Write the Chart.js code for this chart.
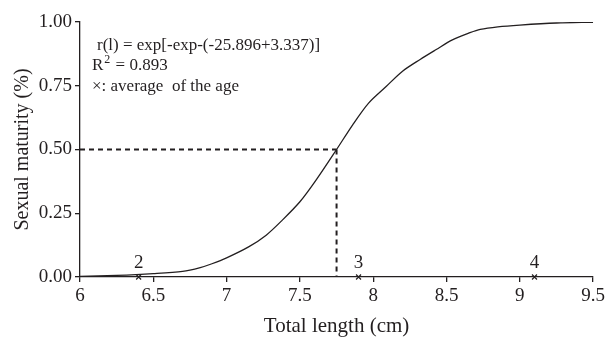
<!DOCTYPE html>
<html>
<head>
<meta charset="utf-8">
<script src="https://cdn.jsdelivr.net/npm/chart.js@4"></script>
<style>
  body { margin: 0; background: #fff; }
  #wrap { width: 608px; height: 337px; }
</style>
</head>
<body>
<div id="wrap"><canvas id="matChart" width="608" height="337"></canvas></div>
<script>
// curve
const lengths = [6.0, 6.25, 6.5, 6.7, 6.82, 6.9, 7.0, 7.15, 7.27, 7.38, 7.5, 7.61, 7.75, 7.86, 7.97, 8.09, 8.2, 8.32, 8.43, 8.54, 8.66, 8.73, 8.85, 9.0, 9.25, 9.5];
const maturity = [0.002, 0.006, 0.013, 0.022, 0.037, 0.052, 0.075, 0.118, 0.164, 0.223, 0.295, 0.38, 0.5, 0.597, 0.683, 0.748, 0.807, 0.853, 0.892, 0.93, 0.958, 0.971, 0.981, 0.988, 0.996, 0.999];

// L50 guide lines
const cutLength = 7.75;
const cutMaturity = 0.5;

// average length of each age
const ageLengths = [6.4, 7.9, 9.1];
const ageLabels = ['2', '3', '4'];

const ink = '#231f20';
const serif = "'Liberation Serif', 'DejaVu Serif', serif";

const curve = lengths.map((l, i) => ({ x: l, y: maturity[i] }));

const textPlugin = {
  id: 'texts',
  afterDatasetsDraw(chart) {
    const c = chart.ctx;
    const xs = chart.scales.x, ys = chart.scales.y;
    c.save();
    c.fillStyle = ink;
    c.textBaseline = 'middle';

    // age labels above the markers
    c.textAlign = 'center';
    c.font = '19px ' + serif;
    ageLengths.forEach((l, i) => {
      c.fillText(ageLabels[i], xs.getPixelForValue(l), ys.getPixelForValue(0) - 14);
    });

    // equation box
    c.textAlign = 'left';
    c.font = '17px ' + serif;
    c.fillText('r(l) = exp[-exp-(-25.896+3.337)]', 97, 46);
    c.fillText('R', 92, 66);
    let w = c.measureText('R').width;
    c.font = '12px ' + serif;
    c.fillText('2', 92 + w + 1, 60);
    let w2 = c.measureText('2').width;
    c.font = '17px ' + serif;
    c.fillText(' = 0.893', 92 + w + w2 + 2, 66);
    c.fillText('\u00d7: average  of the age', 92, 87);
    c.restore();
  }
};

const chart = new Chart(document.getElementById('matChart'), {
  type: 'scatter',
  data: {
    datasets: [
      {
        data: curve,
        showLine: true,
        borderColor: ink,
        borderWidth: 1.3,
        pointRadius: 0,
        tension: 0.3
      },
      {
        data: [{ x: 6, y: cutMaturity }, { x: cutLength, y: cutMaturity }],
        showLine: true,
        borderColor: ink,
        borderWidth: 2,
        borderDash: [5, 4],
        pointRadius: 0
      },
      {
        data: [{ x: cutLength, y: cutMaturity }, { x: cutLength, y: 0 }],
        showLine: true,
        borderColor: ink,
        borderWidth: 2,
        borderDash: [5, 4],
        pointRadius: 0
      },
      {
        data: ageLengths.map(l => ({ x: l, y: 0 })),
        pointStyle: 'crossRot',
        pointRadius: 3.5,
        borderColor: ink,
        borderWidth: 1.2,
        clip: false
      }
    ]
  },
  options: {
    responsive: false,
    animation: false,
    layout: { padding: { top: 22, right: 14, left: 0, bottom: 0 } },
    plugins: {
      legend: { display: false },
      tooltip: { enabled: false }
    },
    scales: {
      x: {
        type: 'linear',
        min: 6,
        max: 9.5,
        afterFit: s => { s.height = 60; },
        grid: { drawOnChartArea: false, drawTicks: true, tickLength: 5, color: ink, lineWidth: 1.3 },
        border: { display: true, color: ink, width: 1.3 },
        ticks: { stepSize: 0.5, color: ink, padding: 3, font: { family: serif, size: 19 }, callback: v => String(+v.toFixed(2)) },
        title: { display: true, text: 'Total length (cm)', color: ink, font: { family: serif, size: 21, lineHeight: 1 }, padding: { top: 0, bottom: 0 } }
      },
      y: {
        min: 0,
        max: 1,
        afterFit: s => { s.width = 80; },
        grid: { drawOnChartArea: false, drawTicks: true, tickLength: 5, color: ink, lineWidth: 1.3 },
        border: { display: true, color: ink, width: 1.3 },
        ticks: { stepSize: 0.25, color: ink, padding: 3, font: { family: serif, size: 19 }, callback: v => v.toFixed(2) },
        title: { display: true, text: 'Sexual maturity (%)', color: ink, font: { family: serif, size: 20 }, padding: { top: 11, bottom: 0 } }
      }
    }
  },
  plugins: [textPlugin]
});
</script>
</body>
</html>
